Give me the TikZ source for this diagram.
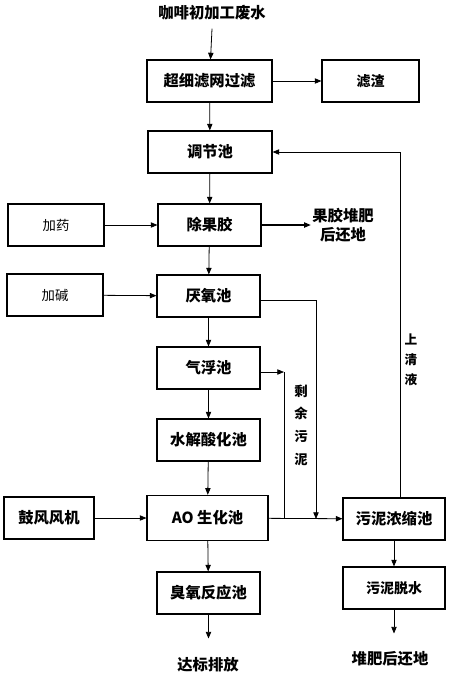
\documentclass[tikz,border=0pt]{standalone}
\usepackage{fontspec}
\setmainfont{Noto Sans CJK SC}
\usepackage{tikz}
\usetikzlibrary{arrows.meta,positioning}
\tikzset{
  box/.style={draw,thick,minimum height=31.5pt,inner sep=2pt,font=\bfseries\fontsize{11.5}{14}\selectfont},
  sbox/.style={box,font=\fontsize{10}{12}\selectfont},
  lbl/.style={font=\bfseries\fontsize{11.5}{14}\selectfont,inner sep=1pt},
  vlbl/.style={font=\bfseries\fontsize{10}{17}\selectfont,align=center,inner sep=1pt},
  ar/.style={-{Triangle[length=5pt,width=4pt]},semithick}
}

\begin{document}
\begin{tikzpicture}[x=0.75pt,y=-0.75pt]
\useasboundingbox (0,0) rectangle (449,676);
% main line
\node[lbl] (src) at (212,13) {咖啡初加工废水};
\node[box,minimum width=93.75pt] (filt) at (209.5,81) {超细滤网过滤};
\node[sbox,font=\bfseries\fontsize{10.5}{12}\selectfont,minimum width=72.75pt] (resid) at (370.5,81) {滤渣};
\node[box,minimum width=93pt] (adj) at (210,152) {调节池};
\node[sbox,minimum width=72pt] (dose) at (56,225) {加药};
\node[box,minimum width=77.25pt] (pect) at (209.5,225) {除果胶};
\node[lbl,align=center] (pectout) at (343,225) {果胶堆肥\\后还地};
\node[sbox,minimum width=72pt] (alkali) at (55,295) {加碱};
\node[box,minimum width=77.25pt] (anae) at (208.5,296) {厌氧池};
\node[box,minimum width=77.25pt] (flot) at (208.5,368) {气浮池};
\node[box,minimum width=77.25pt] (hydro) at (208.5,440) {水解酸化池};
\node[box,minimum width=67.5pt] (blow) at (49,518) {鼓风风机};
\node[box,minimum width=90.75pt,minimum height=34pt] (ao) at (207.5,518) {AO 生化池};
\node[box,minimum width=76.5pt] (thick) at (394,519) {污泥浓缩池};
\node[box,minimum width=77.25pt] (ozone) at (208.5,593) {臭氧反应池};
\node[sbox,font=\bfseries\fontsize{10.5}{12}\selectfont,minimum width=76.5pt] (dewat) at (394,588) {污泥脱水};
\node[lbl] (out1) at (208,665) {达标排放};
\node[lbl] (out2) at (390,659) {堆肥后还地};
\node[vlbl] (waste) at (301,425) {剩\\余\\污\\泥};
\node[vlbl,font=\bfseries\fontsize{9.5}{15}\selectfont] (super) at (411,360) {上\\清\\液};
% connectors
\coordinate (j1) at (284,519);
\coordinate (j2) at (316,519);
\coordinate (k1) at (284,372);
\draw[ar] ([yshift=-5pt]src.south) -- (filt);
\draw[ar] (filt) -- (resid);
\draw[ar] (filt) -- (adj);
\draw[ar] (adj) -- (pect);
\draw[ar] (dose) -- (pect);
\draw[ar,thick] (pect) -- (pectout);
\draw[ar] (pect) -- (anae);
\draw[ar] (alkali) -- (anae);
\draw[ar] (anae) -- (flot);
\draw[ar] (flot) -- (hydro);
\draw[ar] (hydro) -- (ao);
\draw[ar] (blow) -- (ao);
\draw[ar] (ao) -- (ozone);
\draw[ar] (ozone) -- ([yshift=-18pt]ozone.south);
\draw[ar] (ao) -- (thick);
\draw[ar] ([yshift=-3pt]anae.east) -| (j2);
\draw[ar] (flot.east |- k1) -- (k1);
\draw (k1) -- (j1);
\draw[ar] ([xshift=4.5pt]thick.north) |- (adj);
\draw[ar] (thick) -- (dewat);
\draw[ar] (dewat) -- ([yshift=-18pt]dewat.south);
\end{tikzpicture}
\end{document}
